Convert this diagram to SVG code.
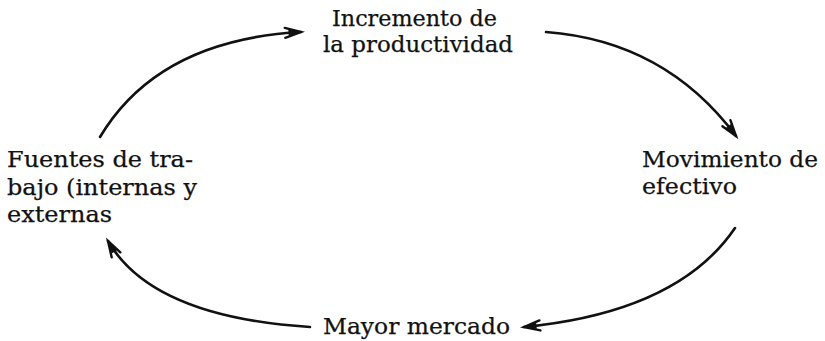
<svg xmlns="http://www.w3.org/2000/svg" width="825" height="341" viewBox="0 0 825 341">
<style>
  .lbl { font-family: "DejaVu Serif", "Liberation Serif", serif; font-size: 22.5px; fill: #111; stroke: #111; stroke-width: 0.25; }
  .con { fill: none; stroke: #111; stroke-width: 2.6; stroke-linecap: round; }
</style>
<defs>
  <marker id="ah" markerUnits="userSpaceOnUse" viewBox="0 0 18 12" refX="16" refY="6" markerWidth="18" markerHeight="12" orient="auto" overflow="visible">
    <path d="M0,1 L16,6 L0,11" fill="none" stroke="#111" stroke-width="2.4" stroke-linejoin="miter" stroke-linecap="round"/>
    <path d="M4,3.5 L16,6 L4,8.5 Z" fill="#111" stroke="#111" stroke-width="1"/>
  </marker>
</defs>
<rect width="825" height="341" fill="#ffffff"/>
<g id="connectors">
  <path class="con" d="M100,137 Q158,40 301,32" marker-end="url(#ah)"/>
  <path class="con" d="M546,32 Q665,41 736,136" marker-end="url(#ah)"/>
  <path class="con" d="M735,228 Q678,312 524,327" marker-end="url(#ah)"/>
  <path class="con" d="M310,327 Q152,317 108,241" marker-end="url(#ah)"/>
</g>
<g id="node-incremento">
  <text class="lbl" x="332" y="26" textLength="165" lengthAdjust="spacingAndGlyphs">Incremento de</text>
  <text class="lbl" x="323" y="52" textLength="190" lengthAdjust="spacingAndGlyphs">la productividad</text>
</g>
<g id="node-movimiento">
  <text class="lbl" x="642" y="167" textLength="176" lengthAdjust="spacingAndGlyphs">Movimiento de</text>
  <text class="lbl" x="642" y="194" textLength="95" lengthAdjust="spacingAndGlyphs">efectivo</text>
</g>
<g id="node-mercado">
  <text class="lbl" x="323" y="334" textLength="187" lengthAdjust="spacingAndGlyphs">Mayor mercado</text>
</g>
<g id="node-fuentes">
  <text class="lbl" x="7" y="167" textLength="186" lengthAdjust="spacingAndGlyphs">Fuentes de tra-</text>
  <text class="lbl" x="7" y="195" textLength="190" lengthAdjust="spacingAndGlyphs">bajo (internas y</text>
  <text class="lbl" x="7" y="222" textLength="105" lengthAdjust="spacingAndGlyphs">externas</text>
</g>
</svg>
